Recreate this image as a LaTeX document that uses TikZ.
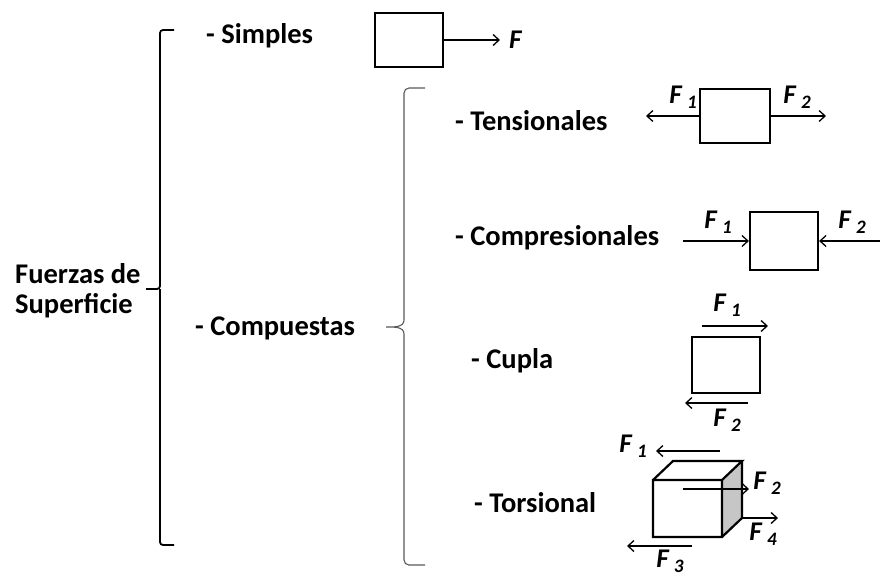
\documentclass[tikz,border=0pt]{standalone}
\usepackage{fontspec}
\setmainfont{Carlito}
\usetikzlibrary{
  arrows.meta,
  positioning,
}

\newcommand{\Flbl}[1]{\textbf{\textit{F}}\,\raisebox{-0.4ex}{\fontsize{19}{19}\selectfont\textbf{\textit{#1}}}}

\begin{document}
\begin{tikzpicture}[
  x=1pt, y=-1pt,
  cat/.style={anchor=base west, inner sep=0pt, font=\fontsize{28.5}{32}\selectfont\bfseries},
  blk/.style={draw, line width=2.2pt, minimum width=68pt, minimum height=54pt, inner sep=0pt},
  force/.style={line width=1.3pt, -{Straight Barb[length=6pt,width=11pt,line width=1.3pt]}},
  flbl/.style={font=\fontsize{27}{27}\selectfont, inner sep=0pt},
]
\useasboundingbox (0,0) rectangle (880,579);

% texts
\node[cat] (fuerzas) at (15,283) {Fuerzas de};
\node[cat] (superf) at (15,313) {Superficie};
\node[cat] (simples) at (206,43) {- Simples};
\node[cat] (compu) at (195,335) {- Compuestas};
\node[cat] (tens) at (455,130) {- Tensionales};
\node[cat] (compr) at (455,245) {- Compresionales};
\node[cat] (cupla) at (471,368) {- Cupla};
\node[cat] (tors) at (474,512) {- Torsional};

% brackets
\draw[line width=1.8pt, rounded corners=3pt]
  (174,30) -| (160,289) -- (146,289) (160,289) |- (174,545);
\draw[gray!70!black, line width=1.1pt]
  (425,88) -- (409,88) to[out=180,in=90] (404,93) -- (404,320)
  to[out=-90,in=0] (386,327) to[out=0,in=90] (404,334) -- (404,560)
  to[out=-90,in=180] (409,565) -- (425,565);

% simple
\node[blk] (bS) at (409,40) {};
\coordinate (fS) at (500,40);
\draw[force] (bS.east) -- (fS);
\node[flbl, right=9pt of fS] (lS) {\textbf{\textit{F}}};

% tension
\node[blk, minimum width=70pt] (bT) at (735,116) {};
\coordinate (tl) at (646,116);
\coordinate (tr) at (826,116);
\draw[force] (bT.west) -- (tl);
\draw[force] (bT.east) -- (tr);
\node[flbl] (lT1) at (683,97) {\Flbl{1}};
\node[flbl] (lT2) at (797,97) {\Flbl{2}};

% compression
\node[blk, minimum height=58pt] (bC) at (784,241) {};
\coordinate (cl) at (683,241);
\coordinate (cr) at (880,241);
\draw[force] (cl) -- (bC.west);
\draw[force] (cr) -- (bC.east);
\node[flbl] (lC1) at (718,222) {\Flbl{1}};
\node[flbl] (lC2) at (852,222) {\Flbl{2}};

% couple
\node[blk, minimum height=56pt] (bK) at (726,365) {};
\coordinate (k1a) at (702,326);
\coordinate (k1b) at (768,326);
\coordinate (k2a) at (748,403);
\coordinate (k2b) at (685,403);
\draw[force] (k1a) -- (k1b);
\draw[force] (k2a) -- (k2b);
\node[flbl] (lK1) at (727,305) {\Flbl{1}};
\node[flbl] (lK2) at (727,420) {\Flbl{2}};

% torsion cube
\fill[gray!45] (722,480) -- (742,461) -- (742,518) -- (722,537) -- cycle;
\draw[line width=2.2pt]
  (653,480) rectangle (722,537)
  (653,480) -- (673,461) -- (742,461) -- (722,480)
  (742,461) -- (742,518) -- (722,537);
\coordinate (t1a) at (720,451);
\coordinate (t1b) at (656,451);
\coordinate (t2a) at (683,489);
\coordinate (t2b) at (749,489);
\coordinate (t4a) at (742,518);
\coordinate (t4b) at (778,518);
\coordinate (t3a) at (692,546);
\coordinate (t3b) at (627,546);
\draw[force] (t1a) -- (t1b);
\draw[force] (t2a) -- (t2b);
\draw[force] (t4a) -- (t4b);
\draw[force] (t3a) -- (t3b);
\node[flbl] (lR1) at (633,446) {\Flbl{1}};
\node[flbl] (lR2) at (767,483) {\Flbl{2}};
\node[flbl] (lR4) at (763,534) {\Flbl{4}};
\node[flbl] (lR3) at (670,561) {\Flbl{3}};
\end{tikzpicture}
\end{document}
